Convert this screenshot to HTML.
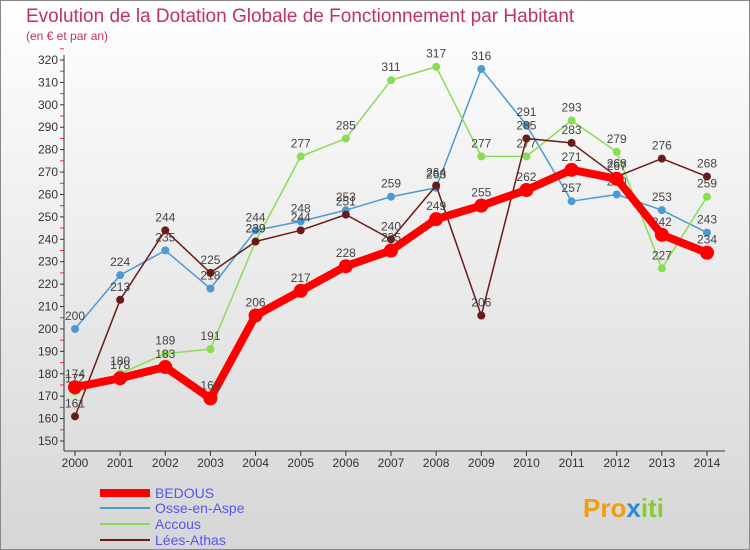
<!DOCTYPE html>
<html><head><meta charset="utf-8"><style>
body{margin:0;width:750px;height:550px;overflow:hidden;font-family:"Liberation Sans",sans-serif}
</style></head><body>
<svg id="c" width="750" height="550" xmlns="http://www.w3.org/2000/svg" style="position:absolute;left:0;top:0">
<defs><linearGradient id="bg" x1="0" y1="0" x2="0" y2="1"><stop offset="0" stop-color="#ffffff"/><stop offset="1" stop-color="#d6d6d6"/></linearGradient></defs>
<rect x="0.5" y="0.5" width="749" height="549" fill="url(#bg)" stroke="#888"/>
<text x="26" y="22" font-size="19" fill="#c0306a">Evolution de la Dotation Globale de Fonctionnement par Habitant</text>
<text x="26" y="40" font-size="12" fill="#c0306a">(en € et par an)</text>
<g id="axes"></g><g id="series"></g>
<g font-size="14">
<line x1="100" y1="493" x2="150" y2="493" stroke="#f00" stroke-width="8"/><text x="155" y="498" fill="#5555ee">BEDOUS</text>
<line x1="100" y1="508" x2="150" y2="508" stroke="#4a9ad4" stroke-width="2"/><text x="155" y="513" fill="#5555ee">Osse-en-Aspe</text>
<line x1="100" y1="524" x2="150" y2="524" stroke="#88dd55" stroke-width="2"/><text x="155" y="529" fill="#5555ee">Accous</text>
<line x1="100" y1="540" x2="150" y2="540" stroke="#6b1a1a" stroke-width="2"/><text x="155" y="545" fill="#5555ee">Lées-Athas</text>
</g>
<text x="583" y="517" font-size="26" font-weight="bold" fill="#f39c12">Pro<tspan fill="#2a8ad4">x</tspan><tspan fill="#88cc33">iti</tspan></text>
</svg>
<script>
const years=[2000,2001,2002,2003,2004,2005,2006,2007,2008,2009,2010,2011,2012,2013,2014];
const bedous=[174,178,183,169,206,217,228,235,249,255,262,271,267,242,234];
const osse=[200,224,235,218,244,248,253,259,263,316,291,257,260,253,243];
const accous=[172,180,189,191,239,277,285,311,317,277,277,293,279,227,259];
const lees=[161,213,244,225,239,244,251,240,264,206,285,283,268,276,268];
const yTicks=[150,160,170,180,190,200,210,220,230,240,250,260,270,280,290,300,310,320];
const NS="http://www.w3.org/2000/svg";
const x=i=>75+i*(707-75)/14;
const y=v=>441-(v-150)*(441-60)/170;
function mk(t,a,p){const e=document.createElementNS(NS,t);for(const k in a)e.setAttribute(k,a[k]);p.appendChild(e);return e;}
const ax=document.getElementById('axes');
yTicks.forEach(v=>{
mk('line',{x1:60,x2:64,y1:y(v),y2:y(v),stroke:'#333'},ax);
mk('line',{x1:60,x2:64,y1:y(v+5),y2:y(v+5),stroke:'#e33'},ax);
const t=mk('text',{x:58,y:y(v)+4,'text-anchor':'end','font-size':12,fill:'#333'},ax);
t.textContent=v;


});
mk('line',{x1:64,x2:64,y1:55,y2:451,stroke:'#333'},ax);
mk('line',{x1:64,x2:725,y1:451,y2:451,stroke:'#333'},ax);
years.forEach((yr,i)=>{
mk('line',{x1:x(i),x2:x(i),y1:451,y2:456,stroke:'#333'},ax);
const t=mk('text',{x:x(i),y:467,'text-anchor':'middle','font-size':12,fill:'#333'},ax);
t.textContent=yr;


});
const sg=document.getElementById('series');
function series(d,col,w,r,name){
const g=mk('g',{},sg);


mk('polyline',{points:d.map((v,i)=>x(i)+','+y(v)).join(' '),fill:'none',stroke:col,'stroke-width':w,'stroke-linejoin':'round'},g);
d.forEach((v,i)=>{
const c=mk('circle',{cx:x(i),cy:y(v),r:r,fill:col},g);


const t=mk('text',{x:x(i),y:y(v)-9,'text-anchor':'middle','font-size':12,fill:'#444'},g);
t.textContent=v;


});
}
series(osse,'#4a9ad4',1.5,4,'series-osse');
series(accous,'#88dd55',1.5,4,'series-accous');
series(lees,'#6b1a1a',1.5,4,'series-lees');
series(bedous,'#ff0000',8,7,'series-bedous');
</script>
</body></html>
